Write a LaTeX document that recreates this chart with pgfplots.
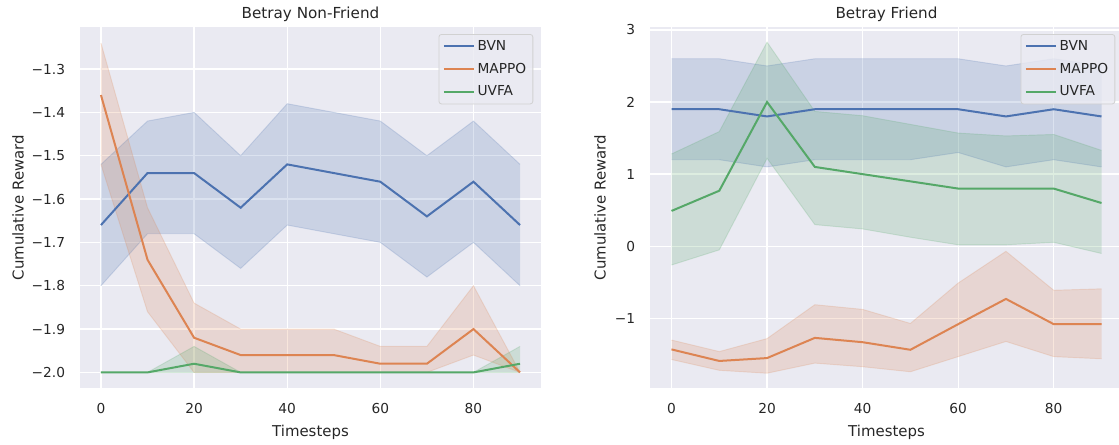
\documentclass[border=0pt]{standalone}
\usepackage{fontspec}
\setmainfont{DejaVu Sans}
\usepackage{pgfplots}
\usepackage{pgfplotstable}
\pgfplotsset{compat=1.18}
\usepgfplotslibrary{fillbetween}
\definecolor{sbblue}{HTML}{4C72B0}
\definecolor{sborange}{HTML}{DD8452}
\definecolor{sbgreen}{HTML}{55A868}
\definecolor{sbbg}{HTML}{EAEAF2}
\definecolor{sbtext}{HTML}{262626}

\pgfplotstableread{
x  bvn   bvnlo bvnhi mappo mappolo mappohi uvfa  uvfalo uvfahi
0  -1.66 -1.80 -1.52 -1.36 -1.52   -1.24   -2.00 -2.00  -2.00
10 -1.54 -1.68 -1.42 -1.74 -1.86   -1.62   -2.00 -2.00  -2.00
20 -1.54 -1.68 -1.40 -1.92 -2.00   -1.84   -1.98 -2.00  -1.94
30 -1.62 -1.76 -1.50 -1.96 -2.00   -1.90   -2.00 -2.00  -2.00
40 -1.52 -1.66 -1.38 -1.96 -2.00   -1.90   -2.00 -2.00  -2.00
50 -1.54 -1.68 -1.40 -1.96 -2.00   -1.90   -2.00 -2.00  -2.00
60 -1.56 -1.70 -1.42 -1.98 -2.00   -1.94   -2.00 -2.00  -2.00
70 -1.64 -1.78 -1.50 -1.98 -2.00   -1.94   -2.00 -2.00  -2.00
80 -1.56 -1.70 -1.42 -1.90 -1.96   -1.80   -2.00 -2.00  -2.00
90 -1.66 -1.80 -1.52 -2.00 -2.00   -2.00   -1.98 -2.00  -1.94
}\leftdata

\pgfplotstableread{
x  bvn bvnlo bvnhi mappo  mappolo mappohi uvfa uvfalo uvfahi
0  1.9 1.2   2.6   -1.43  -1.57   -1.30   0.49 -0.26  1.28
10 1.9 1.2   2.6   -1.59  -1.72   -1.46   0.77 -0.05  1.59
20 1.8 1.1   2.5   -1.55  -1.76   -1.28   2.00 1.22   2.83
30 1.9 1.2   2.6   -1.27  -1.62   -0.81   1.10 0.30   1.87
40 1.9 1.2   2.6   -1.33  -1.67   -0.875  1.00 0.24   1.81
50 1.9 1.2   2.6   -1.435 -1.74   -1.07   0.90 0.125  1.69
60 1.9 1.3   2.6   -1.08  -1.53   -0.51   0.80 0.02   1.57
70 1.8 1.1   2.5   -0.73  -1.32   -0.07   0.80 0.02   1.53
80 1.9 1.2   2.6   -1.08  -1.53   -0.61   0.80 0.055  1.55
90 1.8 1.1   2.5   -1.08  -1.56   -0.59   0.60 -0.10  1.33
}\rightdata

\pgfplotsset{
  band/.style={draw=#1, draw opacity=0.2, line width=0.7pt, forget plot},
  sbstyle/.style={
    scale only axis,
    height=270.75pt,
    axis background/.style={fill=sbbg},
    axis line style={draw=none},
    grid=major,
    major grid style={draw=white, line width=1pt},
    major tick length=0pt,
    tick style={draw=none},
    xmin=-4.5, xmax=94.5,
    xtick={0,20,40,60,80},
    xticklabels={0,20,40,60,80},
    xticklabel style={anchor=base, yshift=-19.1pt, inner sep=0pt, font=\fontsize{10.3}{12}\selectfont, text=sbtext},
    yticklabel style={anchor=east, xshift=-11pt, inner sep=0pt, font=\fontsize{10.3}{12}\selectfont, text=sbtext},
    title style={at={(axis description cs:0.5,1)}, anchor=base, yshift=0.5pt, inner sep=0pt, font=\fontsize{11.4}{13}\selectfont, text=sbtext},
    xlabel={Timesteps},
    xlabel style={at={(axis description cs:0.5,0)}, anchor=base, yshift=-36.3pt, inner sep=0pt, font=\fontsize{11.2}{13}\selectfont, text=sbtext},
    ylabel={Cumulative Reward},
    legend cell align=left,
    legend image code/.code={\draw[##1, line width=1.5pt] (0pt,0pt) -- (22.5pt,0pt);},
    legend style={at={(1,1)}, anchor=north east, xshift=-5.8pt, yshift=-5.25pt,
      fill=sbbg, fill opacity=0.8, text opacity=1, draw=black!18, line width=0.6pt,
      rounded corners=2pt, font=\fontsize{10.3}{12}\selectfont, text=sbtext,
      row sep=4pt, inner xsep=3pt, inner ysep=2.5pt},
  }
}

\begin{document}
\begin{tikzpicture}

\begin{axis}[sbstyle, at={(60pt,42pt)}, anchor=south west, width=345.75pt,
  ymin=-2.036, ymax=-1.203,
  ytick={-2.0,-1.9,-1.8,-1.7,-1.6,-1.5,-1.4,-1.3},
  yticklabels={−2.0,−1.9,−1.8,−1.7,−1.6,−1.5,−1.4,−1.3},
  ylabel style={at={(axis description cs:-0.1225,0.5)}, anchor=base, inner sep=0pt, font=\fontsize{11.2}{13}\selectfont, text=sbtext},
  title={Betray Non-Friend}]
  \addplot[band=sbblue, name path=bh] table[x=x,y=bvnhi]{\leftdata};
  \addplot[band=sbblue, name path=bl] table[x=x,y=bvnlo]{\leftdata};
  \addplot[fill=sbblue, fill opacity=0.2, forget plot] fill between[of=bh and bl];
  \addplot[band=sborange, name path=mh] table[x=x,y=mappohi]{\leftdata};
  \addplot[band=sborange, name path=ml] table[x=x,y=mappolo]{\leftdata};
  \addplot[fill=sborange, fill opacity=0.2, forget plot] fill between[of=mh and ml];
  \addplot[band=sbgreen, name path=uh] table[x=x,y=uvfahi]{\leftdata};
  \addplot[band=sbgreen, name path=ul] table[x=x,y=uvfalo]{\leftdata};
  \addplot[fill=sbgreen, fill opacity=0.2, forget plot] fill between[of=uh and ul];
  \addplot[sbblue, line width=1.5pt] table[x=x,y=bvn]{\leftdata};
  \addlegendentry{BVN}
  \addplot[sborange, line width=1.5pt] table[x=x,y=mappo]{\leftdata};
  \addlegendentry{MAPPO}
  \addplot[sbgreen, line width=1.5pt] table[x=x,y=uvfa]{\leftdata};
  \addlegendentry{UVFA}
\end{axis}

\begin{axis}[sbstyle, at={(487.5pt,42pt)}, anchor=south west, width=354.75pt,
  ymin=-1.965, ymax=3.04,
  ytick={-1,0,1,2,3},
  yticklabels={−1,0,1,2,3},
  ylabel style={at={(axis description cs:-0.0941,0.5)}, anchor=base, inner sep=0pt, font=\fontsize{11.2}{13}\selectfont, text=sbtext},
  title={Betray Friend}]
  \addplot[band=sbblue, name path=bh] table[x=x,y=bvnhi]{\rightdata};
  \addplot[band=sbblue, name path=bl] table[x=x,y=bvnlo]{\rightdata};
  \addplot[fill=sbblue, fill opacity=0.2, forget plot] fill between[of=bh and bl];
  \addplot[band=sborange, name path=mh] table[x=x,y=mappohi]{\rightdata};
  \addplot[band=sborange, name path=ml] table[x=x,y=mappolo]{\rightdata};
  \addplot[fill=sborange, fill opacity=0.2, forget plot] fill between[of=mh and ml];
  \addplot[band=sbgreen, name path=uh] table[x=x,y=uvfahi]{\rightdata};
  \addplot[band=sbgreen, name path=ul] table[x=x,y=uvfalo]{\rightdata};
  \addplot[fill=sbgreen, fill opacity=0.2, forget plot] fill between[of=uh and ul];
  \addplot[sbblue, line width=1.5pt] table[x=x,y=bvn]{\rightdata};
  \addlegendentry{BVN}
  \addplot[sborange, line width=1.5pt] table[x=x,y=mappo]{\rightdata};
  \addlegendentry{MAPPO}
  \addplot[sbgreen, line width=1.5pt] table[x=x,y=uvfa]{\rightdata};
  \addlegendentry{UVFA}
\end{axis}
\pgfresetboundingbox
\path[use as bounding box] (0,0) rectangle (839.25pt,333pt);
\end{tikzpicture}
\end{document}
